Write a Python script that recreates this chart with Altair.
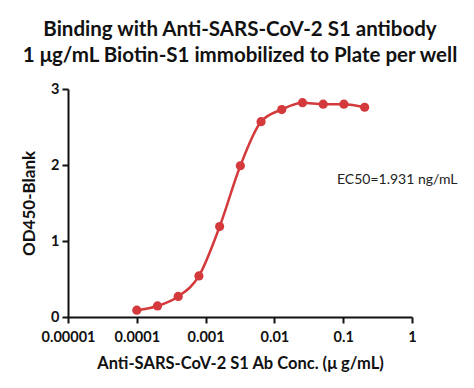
import altair as alt
import pandas as pd

conc = [0.0001, 0.0002, 0.0004, 0.0008, 0.0016, 0.0032, 0.0064, 0.0128, 0.0256, 0.0512, 0.1024, 0.2048]
od = [0.09, 0.145, 0.27, 0.54, 1.19, 1.99, 2.57, 2.73, 2.82, 2.80, 2.80, 2.76]
x_ticks = [0.00001, 0.0001, 0.001, 0.01, 0.1, 1]
y_ticks = [0, 1, 2, 3]
title_lines = ["Binding with Anti-SARS-CoV-2 S1 antibody",
               "1 \u03bcg/mL Biotin-S1 immobilized to Plate per well"]
ec50_text = "EC50=1.931 ng/mL"

df = pd.DataFrame({"conc": conc, "od": od})
RED = "#d43a3c"
FONT = "Lato"

x = alt.X("conc:Q", scale=alt.Scale(type="log", domain=[1e-5, 1]),
          axis=alt.Axis(values=x_ticks, format=".5~f", labelFlush=False, labelOverlap=False,
                        title="Anti-SARS-CoV-2 S1 Ab Conc. (\u03bc g/mL)"))
y = alt.Y("od:Q", scale=alt.Scale(domain=[0, 3], nice=False),
          axis=alt.Axis(values=y_ticks, title="OD450-Blank", labelFlush=False))

line = alt.Chart(df).mark_line(color=RED, strokeWidth=2.5, interpolate="monotone").encode(x=x, y=y)
pts = alt.Chart(df).mark_point(color=RED, filled=True, size=85, opacity=1).encode(x=x, y=y)
txt = alt.Chart(pd.DataFrame({"t": [ec50_text]})).mark_text(
    align="left", baseline="middle", fontSize=14, font=FONT, color="#222"
).encode(x=alt.value(269), y=alt.value(91), text="t:N")

chart = (line + pts + txt).properties(
    width=344, height=228,
    autosize=alt.AutoSizeParams(type="none"),
    padding={"left": 60, "top": 81, "right": 54, "bottom": 63},
    title=alt.Title(title_lines, fontSize=20.5, font=FONT, fontWeight="bold",
                    anchor="middle", offset=15, lineHeight=26, color="#111"),
).configure_view(stroke=None).configure_axis(
    domainColor="#111", domainWidth=2, tickColor="#111", tickWidth=2, tickSize=6,
    grid=False, labelFont=FONT, labelFontSize=14.5, labelFontWeight="bold", labelColor="#111",
    titleFont=FONT, titleFontSize=16.5, titleFontWeight="bold", titleColor="#111",
).configure_axisX(labelPadding=7, titlePadding=12).configure_axisY(labelPadding=3, titlePadding=12, titleFontSize=17)

chart.save("out.html", embed_options={"renderer": "svg", "actions": False})
